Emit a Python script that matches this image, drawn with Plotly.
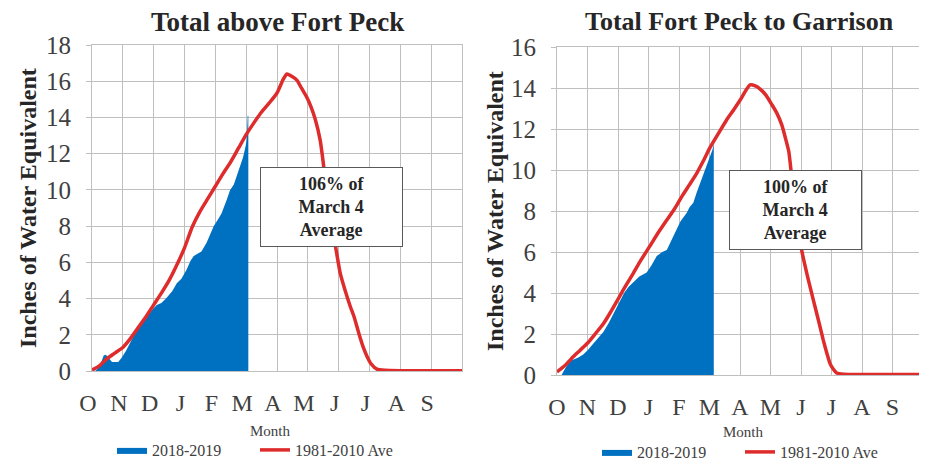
import plotly.graph_objects as go

# ---------------- data ----------------
month_labels = ["O", "N", "D", "J", "F", "M", "A", "M", "J", "J", "A", "S"]
month_pos = list(range(12))

# Total above Fort Peck (x = months since Oct 1)
fp_avg_x = [0, 0.25, 0.5, 0.75, 1.0, 1.25, 1.5, 1.75, 2.0, 2.25, 2.5, 2.75, 3.0, 3.25, 3.5,
            3.75, 4.0, 4.25, 4.5, 4.75, 5.0, 5.25, 5.5, 5.75, 6.0, 6.2, 6.32, 6.45, 6.65, 6.8,
            6.97, 7.1, 7.24, 7.4, 7.5, 7.6, 7.7, 7.8, 7.9, 8.05, 8.2, 8.38, 8.5, 8.65, 8.8,
            8.92, 9.05, 9.24, 9.5, 10, 11, 12]
fp_avg_y = [0.05, 0.3, 0.7, 1.0, 1.3, 1.8, 2.4, 3.0, 3.65, 4.3, 5.0, 5.85, 6.8, 7.95, 8.8,
            9.5, 10.2, 10.9, 11.55, 12.3, 13.05, 13.7, 14.3, 14.8, 15.35, 16.1, 16.4, 16.3, 16.05, 15.6,
            15.1, 14.6, 13.9, 12.75, 11.5, 10.0, 8.7, 7.7, 6.85, 5.4, 4.5, 3.55, 3.0, 2.1, 1.3,
            0.8, 0.4, 0.1, 0.04, 0.02, 0.02, 0.02]

fp_cur_x = [0.1, 0.2, 0.3, 0.38, 0.45, 0.55, 0.65, 0.85, 0.95, 1.1, 1.25, 1.4, 1.55, 1.75,
            1.94, 2.1, 2.25, 2.4, 2.6, 2.75, 2.9, 3.07, 3.2, 3.3, 3.45, 3.55, 3.72, 3.85, 3.95,
            4.1, 4.2, 4.37, 4.48, 4.6, 4.7, 4.8, 4.9, 4.98, 5.02, 5.05, 5.07]
fp_cur_y = [0.0, 0.15, 0.5, 0.85, 0.9, 0.7, 0.5, 0.5, 0.7, 1.1, 1.6, 2.1, 2.5, 2.9,
            3.35, 3.65, 3.75, 4.0, 4.4, 4.85, 5.1, 5.6, 6.1, 6.35, 6.5, 6.6, 7.1, 7.6, 8.0,
            8.4, 8.7, 9.45, 10.0, 10.3, 10.8, 11.2, 11.8, 12.4, 12.8, 14.1, 14.1]

# Total Fort Peck to Garrison
gar_avg_x = [0, 0.25, 0.54, 0.75, 1.03, 1.25, 1.52, 1.75, 2.04, 2.25, 2.5, 2.75, 3.05, 3.3,
             3.6, 3.85, 4.09, 4.35, 4.58, 4.8, 5.02, 5.3, 5.56, 5.8, 6.0, 6.2, 6.33, 6.5, 6.66,
             6.85, 7.04, 7.2, 7.37, 7.5, 7.6, 7.7, 7.8, 7.9, 8.02, 8.19, 8.33, 8.46, 8.6, 8.73,
             8.85, 8.95, 9.05, 9.17, 9.4, 10, 11, 12]
gar_avg_y = [0.15, 0.45, 0.9, 1.2, 1.6, 2.0, 2.5, 3.05, 3.8, 4.35, 4.96, 5.6, 6.3, 6.9,
             7.56, 8.1, 8.7, 9.3, 9.84, 10.45, 11.1, 11.8, 12.44, 12.95, 13.4, 13.9, 14.15, 14.1, 13.95,
             13.65, 13.2, 12.8, 12.2, 11.5, 10.9, 9.6, 8.4, 7.2, 6.1, 4.96, 4.1, 3.33, 2.5, 1.7,
             1.05, 0.57, 0.3, 0.1, 0.04, 0.03, 0.03, 0.03]

gar_cur_x = [0.15, 0.3, 0.45, 0.54, 0.7, 0.86, 1.0, 1.2, 1.35, 1.52, 1.7, 1.85, 2.04, 2.2,
             2.35, 2.5, 2.7, 2.94, 3.1, 3.27, 3.45, 3.6, 3.75, 3.92, 4.05, 4.25, 4.35, 4.47,
             4.58, 4.69, 4.8, 4.9, 5.0, 5.1, 5.14]
gar_cur_y = [0.0, 0.4, 0.7, 0.75, 0.85, 1.0, 1.2, 1.55, 1.8, 2.1, 2.55, 3.0, 3.6, 4.0,
             4.3, 4.5, 4.8, 5.0, 5.35, 5.8, 6.0, 6.1, 6.6, 7.1, 7.5, 7.9, 8.2, 8.4,
             8.9, 9.35, 9.8, 10.2, 10.6, 11.0, 11.3]

series_names = ["2018-2019", "1981-2010 Ave"]
titles = ["Total above Fort Peck", "Total Fort Peck to Garrison"]
box_texts = ["106% of<br>March 4<br>Average", "100% of<br>March 4<br>Average"]
y_max = [18, 16]

# ---------------- styling ----------------
OFF = 8                      # default page margin of the html body
W, H = 927 - OFF, 462 - OFF
BLUE = "#0070C0"
RED = "#DE2B2B"
GRID = "#BFBFBF"
SERIF = "Liberation Serif"
TXT = "#404040"

def px_x(p):
    return (p - OFF) / W

def px_y(p):
    return 1 - (p - OFF) / H

fig = go.Figure()

panels = [
    dict(cx=fp_cur_x, cy=fp_cur_y, ax=fp_avg_x, ay=fp_avg_y, xa="x", ya="y", leg="legend",
         xd=[92, 462], yd=[45, 371]),
    dict(cx=gar_cur_x, cy=gar_cur_y, ax=gar_avg_x, ay=gar_avg_y, xa="x2", ya="y2", leg="legend2",
         xd=[557, 923], yd=[47, 375]),
]

for p in panels:
    fig.add_trace(go.Scatter(x=p["cx"], y=p["cy"], mode="lines", fill="tozeroy",
                             fillcolor=BLUE, line=dict(color=BLUE, width=0),
                             name=series_names[0], xaxis=p["xa"], yaxis=p["ya"],
                             legend=p["leg"], hoverinfo="skip"))
    fig.add_trace(go.Scatter(x=p["ax"], y=p["ay"], mode="lines",
                             line=dict(color=RED, width=3.5, shape="spline", smoothing=0.5),
                             name=series_names[1], xaxis=p["xa"], yaxis=p["ya"],
                             legend=p["leg"], hoverinfo="skip"))

def xaxis_cfg(dom, shift, anchor):
    return dict(domain=[px_x(dom[0]), px_x(dom[1])], range=[0, 12], anchor=anchor,
                automargin=False,
                tickmode="array", tickvals=month_pos, ticktext=month_labels,
                showgrid=True, gridcolor=GRID, gridwidth=1, zeroline=False,
                showline=True, linecolor=GRID, linewidth=1, mirror=True,
                ticks="", ticklabelstandoff=10, ticklabelshift=shift,
                tickfont=dict(family=SERIF, size=24, color=TXT))

def yaxis_cfg(dom, ymax, anchor):
    return dict(domain=[px_y(dom[1]), px_y(dom[0])], range=[0, ymax], dtick=2,
                anchor=anchor, automargin=False,
                showgrid=True, gridcolor=GRID, gridwidth=1, zeroline=False,
                showline=True, linecolor=GRID, linewidth=1, mirror=True,
                ticks="outside", ticklen=5, tickcolor=GRID, ticklabelstandoff=10,
                tickfont=dict(family=SERIF, size=25, color=TXT))

fig.update_layout(
    width=W, height=H,
    font=dict(family=SERIF, color=TXT),
    margin=dict(l=0, r=0, t=0, b=0, autoexpand=False),
    paper_bgcolor="white", plot_bgcolor="white",
    xaxis=xaxis_cfg(panels[0]["xd"], -4, "y"),
    yaxis=yaxis_cfg(panels[0]["yd"], y_max[0], "x"),
    xaxis2=xaxis_cfg(panels[1]["xd"], 0, "y2"),
    yaxis2=yaxis_cfg(panels[1]["yd"], y_max[1], "x2"),
    legend=dict(orientation="h", x=px_x(112), y=px_y(450), xanchor="left", yanchor="middle",
                font=dict(family=SERIF, size=16, color=TXT), entrywidth=98,
                bgcolor="rgba(0,0,0,0)", itemclick=False, tracegroupgap=0),
    legend2=dict(orientation="h", x=px_x(597), y=px_y(452), xanchor="left", yanchor="middle",
                 font=dict(family=SERIF, size=16, color=TXT), entrywidth=98,
                 bgcolor="rgba(0,0,0,0)", itemclick=False, tracegroupgap=0),
    showlegend=True,
)

annotations = []
# titles
for t, cx, cy, fs in zip(titles, [277, 739], [22, 21], [27, 26]):
    annotations.append(dict(text="<b>%s</b>" % t, x=px_x(cx), y=px_y(cy), xref="paper", yref="paper",
                            showarrow=False, xanchor="center", yanchor="middle",
                            font=dict(family=SERIF, size=fs, color="#262626")))
# y titles
for cx, cy in [(28, 208), (495, 211)]:
    annotations.append(dict(text="<b>Inches of Water Equivalent</b>", x=px_x(cx), y=px_y(cy),
                            xref="paper", yref="paper", showarrow=False, textangle=-90,
                            xanchor="center", yanchor="middle",
                            font=dict(family=SERIF, size=24, color="#262626")))
# x titles
for cx, cy in [(270, 431), (743, 432)]:
    annotations.append(dict(text="Month", x=px_x(cx), y=px_y(cy), xref="paper", yref="paper",
                            showarrow=False, xanchor="center", yanchor="middle",
                            font=dict(family=SERIF, size=15, color=TXT)))
# boxes
for txt, (x0, x1, y0, y1) in zip(box_texts, [(260, 403, 167, 247), (729, 862, 170, 250)]):
    annotations.append(dict(text="<b>%s</b>" % txt, x=px_x((x0 + x1) / 2), y=px_y((y0 + y1) / 2),
                            xref="paper", yref="paper", showarrow=False,
                            xanchor="center", yanchor="middle",
                            width=x1 - x0 - 2, height=y1 - y0 - 2, borderpad=0,
                            bordercolor="#595959", borderwidth=1, bgcolor="white",
                            font=dict(family=SERIF, size=18, color="#262626")))
fig.update_layout(annotations=annotations)

fig.write_html("out.html")
